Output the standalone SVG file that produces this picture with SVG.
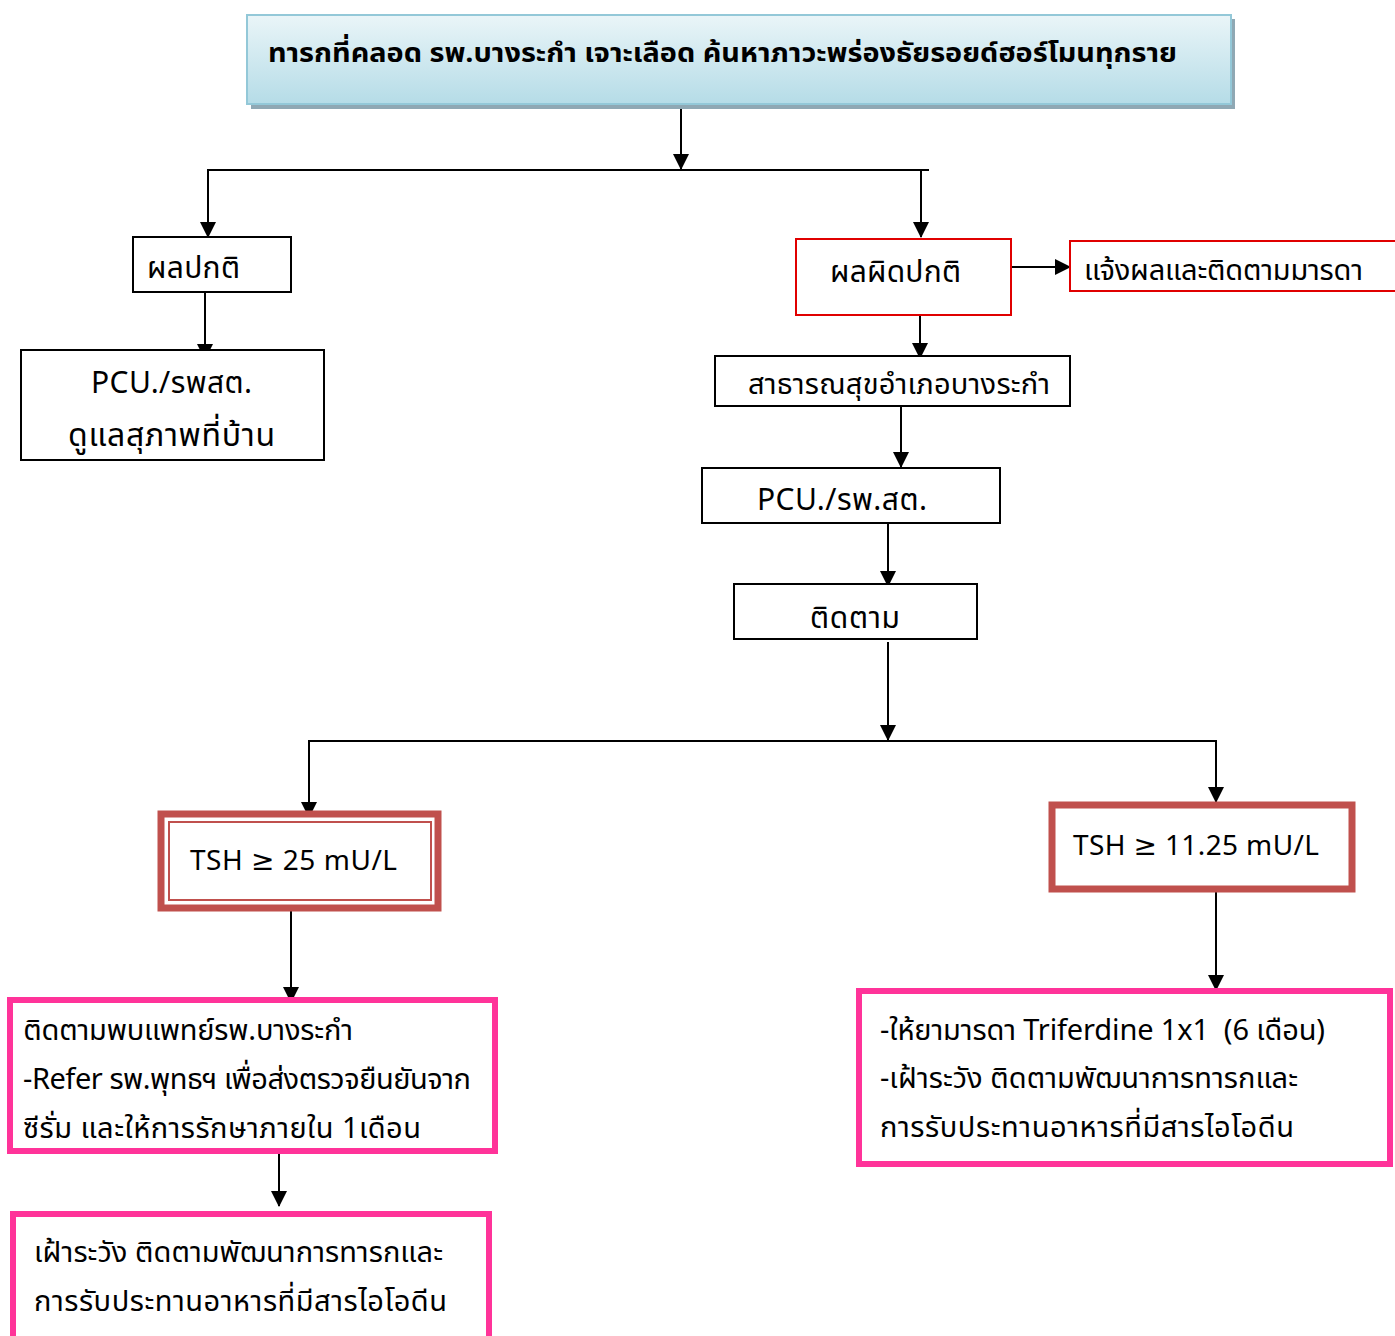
<svg xmlns="http://www.w3.org/2000/svg" width="1395" height="1336" viewBox="0 0 1395 1336">
<defs>
<linearGradient id="tg" x1="0" y1="0" x2="0" y2="1">
<stop offset="0" stop-color="#eaf5f8"/>
<stop offset="1" stop-color="#b5dce7"/>
</linearGradient>
<marker id="ah2" markerWidth="16" markerHeight="16" refX="15" refY="8" orient="auto" markerUnits="userSpaceOnUse" viewBox="0 0 16 16">
<path d="M0,0 L16,8 L0,16 z" fill="#000"/>
</marker>
</defs>
<style>
text{font-family:"Noto Sans Thai","Noto Sans","DejaVu Sans",sans-serif;fill:#000;font-size:29px}
.b{fill:#fff;stroke:#000;stroke-width:2}
.r{fill:#fff;stroke:#e00000;stroke-width:2}
.tsh{fill:#fff;stroke:#c0504d}
.p{fill:#fff;stroke:#ff3399;stroke-width:6}
.c line{stroke:#000;stroke-width:2;fill:none}
</style>
<rect width="1395" height="1336" fill="#fff"/>
<g class="c">
<line x1="681" y1="104" x2="681" y2="169" marker-end="url(#ah2)"/>
<line x1="207" y1="170" x2="929" y2="170"/>
<line x1="208" y1="170" x2="208" y2="237" marker-end="url(#ah2)"/>
<line x1="921" y1="170" x2="921" y2="237" marker-end="url(#ah2)"/>
<line x1="205" y1="292" x2="205" y2="359" marker-end="url(#ah2)"/>
<line x1="1007" y1="267" x2="1070" y2="267" marker-end="url(#ah2)"/>
<line x1="920" y1="315" x2="920" y2="358" marker-end="url(#ah2)"/>
<line x1="901" y1="402" x2="901" y2="467" marker-end="url(#ah2)"/>
<line x1="888" y1="520" x2="888" y2="586" marker-end="url(#ah2)"/>
<line x1="888" y1="642" x2="888" y2="740" marker-end="url(#ah2)"/>
<line x1="308" y1="741" x2="1217" y2="741"/>
<line x1="309" y1="741" x2="309" y2="817" marker-end="url(#ah2)"/>
<line x1="1216" y1="741" x2="1216" y2="802" marker-end="url(#ah2)"/>
<line x1="291" y1="907" x2="291" y2="1002" marker-end="url(#ah2)"/>
<line x1="1216" y1="891" x2="1216" y2="990" marker-end="url(#ah2)"/>
<line x1="279" y1="1145" x2="279" y2="1206" marker-end="url(#ah2)"/>
</g>
<g id="title">
<rect x="251" y="19" width="984" height="90" fill="#8fa8b4"/>
<rect x="247" y="15" width="984" height="89" fill="url(#tg)" stroke="#93c8d8" stroke-width="2"/>
<text x="268" y="62" style="font-size:27px;font-weight:bold" textLength="909" lengthAdjust="spacingAndGlyphs">ทารกที่คลอด รพ.บางระกำ เจาะเลือด ค้นหาภาวะพร่องธัยรอยด์ฮอร์โมนทุกราย</text>
</g>
<g id="normal">
<rect class="b" x="133" y="237" width="158" height="55"/>
<text x="147" y="278" style="font-size:30px" textLength="93">ผลปกติ</text>
</g>
<g id="pcu1">
<rect class="b" x="21" y="350" width="303" height="110"/>
<text x="91" y="393" style="font-size:30px" textLength="161">PCU./รพสต.</text>
<text x="68" y="446" style="font-size:32px" textLength="207">ดูแลสุภาพที่บ้าน</text>
</g>
<g id="abnormal">
<rect class="r" x="796" y="239" width="215" height="76"/>
<text x="830" y="282" style="font-size:30px" textLength="131">ผลผิดปกติ</text>
</g>
<g id="notify">
<rect class="r" x="1070" y="241" width="340" height="50"/>
<text x="1084" y="280" textLength="279">แจ้งผลและติดตามมารดา</text>
</g>
<g id="district">
<rect class="b" x="715" y="356" width="355" height="50"/>
<text x="748" y="394" textLength="302">สาธารณสุขอำเภอบางระกำ</text>
</g>
<g id="pcu2">
<rect class="b" x="702" y="468" width="298" height="55"/>
<text x="757" y="510" style="font-size:30px" textLength="170">PCU./รพ.สต.</text>
</g>
<g id="follow">
<rect class="b" x="734" y="584" width="243" height="55"/>
<text x="810" y="628" style="font-size:30px" textLength="90">ติดตาม</text>
</g>
<g id="tsh25">
<rect class="tsh" x="161" y="814" width="277" height="94" stroke-width="7"/>
<rect class="tsh" x="169" y="822" width="262" height="78" stroke-width="2"/>
<text x="190" y="870" style="font-size:28px" textLength="207">TSH ≥ 25 mU/L</text>
</g>
<g id="tsh1125">
<rect class="tsh" x="1052" y="805" width="300" height="84" stroke-width="7"/>
<text x="1073" y="855" style="font-size:28px" textLength="246">TSH ≥ 11.25 mU/L</text>
</g>
<g id="refer">
<rect class="p" x="10" y="1000" width="485" height="151"/>
<text x="23" y="1040" textLength="330">ติดตามพบแพทย์รพ.บางระกำ</text>
<text x="23" y="1089" textLength="448">-Refer รพ.พุทธฯ เพื่อส่งตรวจยืนยันจาก</text>
<text x="23" y="1138" textLength="398">ซีรั่ม และให้การรักษาภายใน 1เดือน</text>
</g>
<g id="watch1">
<rect class="p" x="13" y="1214" width="476" height="130"/>
<text x="34" y="1262" textLength="409">เฝ้าระวัง ติดตามพัฒนาการทารกและ</text>
<text x="34" y="1311" textLength="413">การรับประทานอาหารที่มีสารไอโอดีน</text>
</g>
<g id="treat">
<rect class="p" x="859" y="991" width="531" height="173"/>
<text x="880" y="1040" textLength="445">-ให้ยามารดา Triferdine 1x1 &#160;(6 เดือน)</text>
<text x="880" y="1088" textLength="418">-เฝ้าระวัง ติดตามพัฒนาการทารกและ</text>
<text x="880" y="1137" textLength="414">การรับประทานอาหารที่มีสารไอโอดีน</text>
</g>
</svg>
